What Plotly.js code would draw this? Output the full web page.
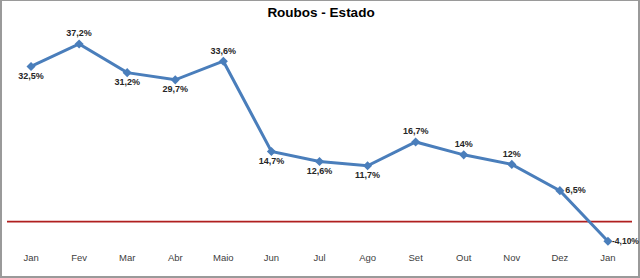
<!DOCTYPE html>
<html><head><meta charset="utf-8">
<script src="https://cdn.plot.ly/plotly-3.0.1.min.js"></script>
<style>
html,body{margin:0;padding:0;background:#fff;}
#wrap{position:absolute;left:0;top:0;width:640px;height:278px;box-sizing:border-box;border-style:solid;border-color:#9a9a9a;border-width:1px 2px 2px 2px;overflow:visible;}
#chart{width:638px;height:275px;}
</style></head>
<body><div id="wrap"><div id="chart"></div></div>
<script>
const months = ["Jan","Fev","Mar","Abr","Maio","Jun","Jul","Ago","Set","Out","Nov","Dez","Jan"];
const values = [32.5, 37.2, 31.2, 29.7, 33.6, 14.7, 12.6, 11.7, 16.7, 14, 12, 6.5, -4.1];
const labels = ["32,5%","37,2%","31,2%","29,7%","33,6%","14,7%","12,6%","11,7%","16,7%","14%","12%","6,5%","-4,10%"];
const labelPos = ["bottom center","top center","bottom center","bottom center","top center","bottom center","bottom center","bottom center","top center","top center","top center","middle right","middle right"];

const idx = months.map((m,i)=>i);
const last = values.length - 1;
const labelFont = {family:'Liberation Sans, Arial, sans-serif', size:9, color:'#262626', weight:'bold'};
const trace = {
  x: idx, y: values, type:'scatter', mode:'lines+markers+text',
  line:{color:'#4a7ebb', width:3},
  marker:{symbol:'diamond', size:7, color:'#4a7ebb'},
  text: labels.map((t,i)=> i===last ? '' : t), textposition: labelPos,
  textfont: labelFont,
  cliponaxis:false, hoverinfo:'skip'
};
const layout = {
  width:638, height:275,
  margin:{l:5, r:8, t:29, b:26},
  paper_bgcolor:'rgba(0,0,0,0)', plot_bgcolor:'rgba(0,0,0,0)',
  showlegend:false,
  title:{text:'<b>Roubos - Estado</b>', x:0.5, xanchor:'center', y:0.975, yanchor:'top',
    font:{family:'Liberation Sans, Arial, sans-serif', size:13.5, color:'#000'}},
  xaxis:{range:[-0.5,12.5], tickvals:idx, ticktext:months, showgrid:false, zeroline:false,
    showline:false, ticks:'', tickfont:{family:'Liberation Sans, Arial, sans-serif', size:9.5, color:'#404040'}, fixedrange:true},
  yaxis:{range:[-5.92,40.13], visible:false, showgrid:false, zeroline:false, fixedrange:true},
  shapes:[{type:'line', xref:'paper', x0:0, x1:1, yref:'y', y0:0, y1:0, line:{color:'#b01f1f', width:1.8}, layer:'below'}],
  annotations:[{x: idx[last], y: values[last], xref:'x', yref:'y', text: labels[last], showarrow:false,
    xanchor:'left', yanchor:'middle', xshift:2, font:{family:'Liberation Sans, Arial, sans-serif', size:8.5, color:'#262626', weight:'bold'}}]
};
Plotly.newPlot('chart',[trace],layout,{displayModeBar:false, staticPlot:true});
</script></body></html>
